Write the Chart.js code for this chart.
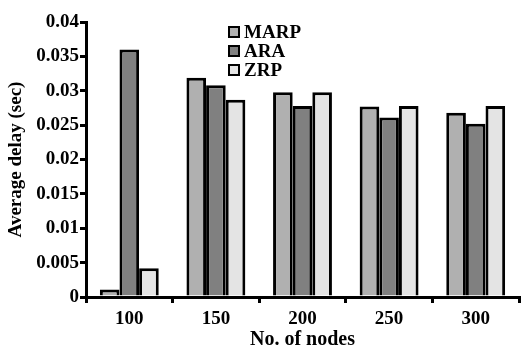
<!DOCTYPE html>
<html>
<head>
<meta charset="utf-8">
<script src="https://cdn.jsdelivr.net/npm/chart.js@4/dist/chart.umd.min.js"></script>
<style>
html,body{margin:0;padding:0;background:#fff;}
#wrap{width:521px;height:352px;}
</style>
</head>
<body>
<div id="wrap"><canvas id="c" width="521" height="352"></canvas></div>
<script>
const categories = ['100', '150', '200', '250', '300'];
const marp = [0.0011, 0.0319, 0.0298, 0.0277, 0.0268];
const ara  = [0.0360, 0.0308, 0.0278, 0.0261, 0.0252];
const zrp  = [0.0042, 0.0287, 0.0298, 0.0278, 0.0278];
const seriesNames = ['MARP', 'ARA', 'ZRP'];
const yTicks = [0, 0.005, 0.01, 0.015, 0.02, 0.025, 0.03, 0.035, 0.04];

const FONT = '"Liberation Serif", "Times New Roman", serif';
const colors = ['#b0b0b0', '#808080', '#e4e4e4'];

const legendPlugin = {
  id: 'boxLegend',
  afterDraw(chart) {
    const ctx = chart.ctx;
    ctx.save();
    ctx.font = 'bold 19px ' + FONT;
    ctx.textBaseline = 'middle';
    chart.data.datasets.forEach((ds, i) => {
      const x = 229, y = 27 + i * 19;
      ctx.fillStyle = ds.backgroundColor;
      ctx.fillRect(x, y, 10, 10);
      ctx.lineWidth = 2;
      ctx.strokeStyle = '#000';
      ctx.strokeRect(x, y, 10, 10);
      ctx.fillStyle = '#000';
      ctx.fillText(ds.label, x + 15, y + 6);
    });
    ctx.restore();
  }
};

new Chart(document.getElementById('c'), {
  type: 'bar',
  data: {
    labels: categories,
    datasets: [
      { label: seriesNames[0], data: marp, backgroundColor: colors[0] },
      { label: seriesNames[1], data: ara, backgroundColor: colors[1] },
      { label: seriesNames[2], data: zrp, backgroundColor: colors[2] }
    ].map(d => Object.assign(d, { borderColor: '#000', borderWidth: 3, borderSkipped: 'bottom', categoryPercentage: 0.68, barPercentage: 1.0 }))
  },
  options: {
    responsive: false,
    animation: false,
    devicePixelRatio: 1,
    layout: { padding: { left: 0, right: 2, top: 22, bottom: 0 } },
    plugins: { legend: { display: false }, tooltip: { enabled: false } },
    scales: {
      x: {
        grid: { display: true, drawOnChartArea: false, drawTicks: true, tickLength: 6, color: '#000', lineWidth: 3, offset: true },
        border: { display: true, color: '#000', width: 3 },
        ticks: { color: '#000', font: { family: FONT, size: 19, weight: 'bold' }, padding: 5 },
        title: { display: true, text: 'No. of nodes', color: '#000', font: { family: FONT, size: 20, weight: 'bold' }, padding: { top: 0, bottom: 0 } },
        afterFit(scale) { scale.height = 55; }
      },
      y: {
        min: 0, max: 0.04,
        afterBuildTicks(scale) { scale.ticks = yTicks.map(v => ({ value: v })); },
        grid: { display: true, drawOnChartArea: false, drawTicks: true, tickLength: 6, color: '#000', lineWidth: 3 },
        border: { display: true, color: '#000', width: 3 },
        ticks: { color: '#000', font: { family: FONT, size: 19, weight: 'bold' }, padding: 1,
          callback: v => String(Math.round(v * 1000) / 1000) },
        title: { display: true, text: 'Average delay (sec)', color: '#000', font: { family: FONT, size: 19, weight: 'bold' }, padding: { top: 5, bottom: 0 } },
        afterFit(scale) { scale.width = 86; }
      }
    }
  },
  plugins: [legendPlugin]
});
</script>
</body>
</html>
